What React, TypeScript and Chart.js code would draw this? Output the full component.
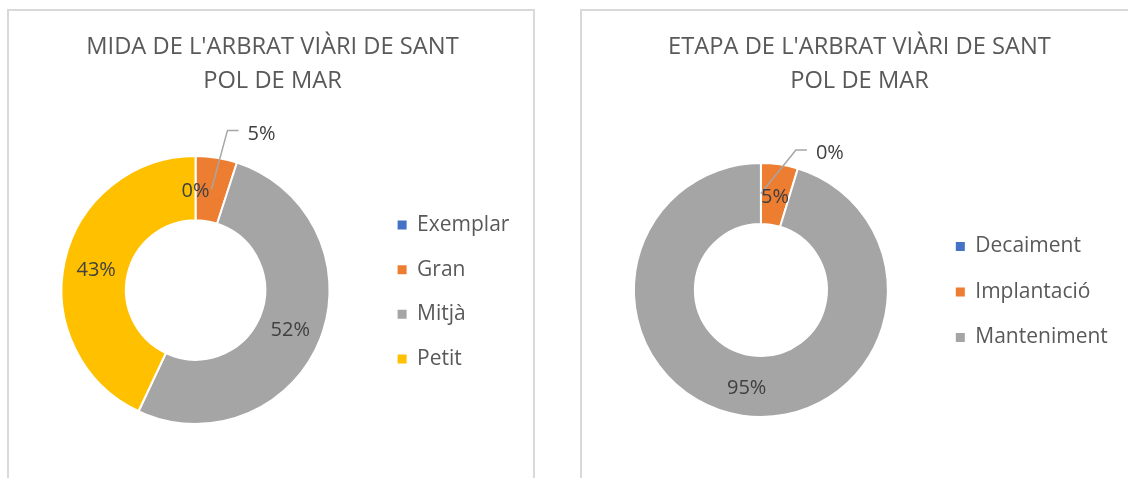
import React, { useEffect, useRef } from "react";
import { Chart, registerables } from "chart.js";

Chart.register(...registerables);

// ---- data ----
const sizeTitle = ["MIDA DE L'ARBRAT VIÀRI DE SANT", "POL DE MAR"];
const sizeCategories = ["Exemplar", "Gran", "Mitjà", "Petit"];
const sizeValues = [0, 5, 52, 43];
const sizeColors = ["#4472C4", "#ED7D31", "#A5A5A5", "#FFC000"];

const stageTitle = ["ETAPA DE L'ARBRAT VIÀRI DE SANT", "POL DE MAR"];
const stageCategories = ["Decaiment", "Implantació", "Manteniment"];
const stageValues = [0, 4.7, 95.3];
const stageColors = ["#4472C4", "#ED7D31", "#A5A5A5"];

const FONT = "'Open Sans', 'Noto Sans', sans-serif";

const pctLabels = {
  id: "pctLabels",
  afterDatasetsDraw(chart: any, _args: any, opts: any) {
    const ctx = chart.ctx as CanvasRenderingContext2D;
    const meta = chart.getDatasetMeta(0);
    const data = chart.data.datasets[0].data as number[];
    const total = data.reduce((a, b) => a + b, 0);
    const size = opts.size;
    ctx.save();
    ctx.font = `${size}px ${FONT}`;
    ctx.textBaseline = "alphabetic";
    const items: any[] = [];
    meta.data.forEach((arc: any, i: number) => {
      const text = Math.round((data[i] / total) * 100) + "%";
      const p = arc.getCenterPoint(true);
      if (opts.outside && opts.outside.index === i) {
        const lx = p.x + opts.outside.dx;
        const ly = p.y + opts.outside.dy;
        ctx.strokeStyle = "#A6A6A6";
        ctx.lineWidth = 1.5;
        ctx.beginPath();
        ctx.moveTo(p.x, p.y);
        ctx.lineTo(lx - 20, ly - 2);
        ctx.lineTo(lx - 9, ly - 2);
        ctx.stroke();
        items.push({ text, x: lx, y: ly, align: "left" });
      } else {
        items.push({ text, x: p.x, y: p.y + 1.5, align: "center" });
      }
    });
    ctx.fillStyle = "#404040";
    items.forEach((it) => {
      ctx.textAlign = it.align;
      ctx.fillText(it.text, it.x, it.y + size * 0.36);
    });
    ctx.restore();
  },
};

function DoughnutPanel(props: any) {
  const { title, titleWidth, categories, values, colors, cfg, canvasW, canvasH } = props;
  const ref = useRef<HTMLCanvasElement>(null);
  useEffect(() => {
    const chart = new Chart(ref.current as HTMLCanvasElement, {
      type: "doughnut",
      data: {
        labels: categories,
        datasets: [
          {
            data: values,
            backgroundColor: colors,
            borderColor: "#ffffff",
            borderWidth: 2,
            hoverOffset: 0,
          },
        ],
      },
      options: {
        animation: false,
        responsive: false,
        maintainAspectRatio: false,
        cutout: "52%",
        layout: { padding: cfg.padding },
        plugins: {
          title: { display: false },
          legend: {
            position: "right",
            fullSize: false,
            title: { display: true, text: " ", font: { size: 4, lineHeight: 1 }, padding: 0 },
            labels: {
              boxWidth: 9,
              boxHeight: 9,
              padding: cfg.legendPad,
              color: "#595959",
              font: { family: FONT, size: 21 },
              generateLabels: (c: any) =>
                (Chart as any).overrides.doughnut.plugins.legend.labels
                  .generateLabels(c)
                  .map((l: any) => ({ ...l, lineWidth: 0 })),
            },
          },
          tooltip: { enabled: false },
          pctLabels: { size: 20, outside: cfg.outside },
        } as any,
      },
      plugins: [pctLabels],
    });
    return () => chart.destroy();
  }, []);
  return (
    <>
      <canvas
        ref={ref}
        width={canvasW}
        height={canvasH}
        style={{ display: "block", width: canvasW, height: canvasH }}
      />
      <div
        style={{
          position: "absolute",
          left: 0,
          top: 17,
          width: titleWidth,
          textAlign: "center",
          fontFamily: FONT,
          fontSize: "23.7px",
          lineHeight: "34px",
          color: "#595959",
          whiteSpace: "nowrap",
        }}
      >
        {title.map((t: string, i: number) => (
          <div key={i}>{t}</div>
        ))}
      </div>
    </>
  );
}

export default function App() {
  useEffect(() => {
    document.documentElement.style.overflow = "hidden";
  }, []);
  return (
    <div>
      <div
        style={{
          position: "fixed",
          left: 7,
          top: 9,
          width: 528,
          height: 480,
          boxSizing: "border-box",
          border: "2px solid #D9D9D9",
          borderBottom: "none",
          background: "#fff",
          overflow: "hidden",
        }}
      >
        <DoughnutPanel
          title={sizeTitle}
          titleWidth={527}
          categories={sizeCategories}
          values={sizeValues}
          colors={sizeColors}
          canvasW={524}
          canvasH={467}
          cfg={{
            padding: { left: 8.2, right: 13.6, top: 144, bottom: 53 },
            legendPad: 23.7,
            outside: { index: 1, dx: 36, dy: -57 },
          }}
        />
      </div>
      <div
        style={{
          position: "fixed",
          left: 580,
          top: 9,
          width: 548,
          height: 480,
          boxSizing: "border-box",
          borderLeft: "2px solid #D9D9D9",
          borderTop: "2px solid #D9D9D9",
          background: "#fff",
          overflow: "hidden",
        }}
      >
        <DoughnutPanel
          title={stageTitle}
          titleWidth={555}
          categories={stageCategories}
          values={stageValues}
          colors={stageColors}
          canvasW={546}
          canvasH={467}
          cfg={{
            padding: { left: 8.5, right: 10.2, top: 151, bottom: 60 },
            legendPad: 24.5,
            outside: { index: 0, dx: 55, dy: -41.5 },
          }}
        />
      </div>
    </div>
  );
}
